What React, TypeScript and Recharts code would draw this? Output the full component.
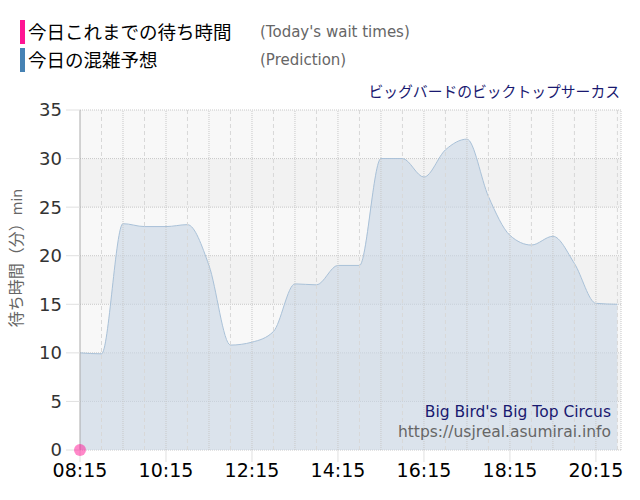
import { ComposedChart, Area, Scatter, XAxis, YAxis, CartesianGrid, ReferenceLine } from 'recharts';

// prediction series, every 30 minutes
const PRED_TIMES = [
  '08:15', '08:45', '09:15', '09:45', '10:15', '10:45', '11:15', '11:45', '12:15', '12:45',
  '13:15', '13:45', '14:15', '14:45', '15:15', '15:45', '16:15', '16:45', '17:15', '17:45',
  '18:15', '18:45', '19:15', '19:45', '20:15', '20:45',
];
const PRED_VALUES = [
  10, 9.9, 23.3, 23, 23, 23.2, 19, 10.8, 11.1, 12.2,
  17.1, 17, 19, 19, 30, 30, 28.1, 30.9, 32, 26.1,
  22.1, 21.1, 22, 19.2, 15.1, 15,
];

// today's actual wait times
const ACTUAL_TIMES = ['08:15'];
const ACTUAL_VALUES = [0];

const X_TICKS = ['08:15', '10:15', '12:15', '14:15', '16:15', '18:15', '20:15'];
const Y_TICKS = [0, 5, 10, 15, 20, 25, 30, 35];
const GRID_DOTTED = ['09:15', '10:15', '11:15', '12:15', '13:15', '14:15', '15:15', '16:15', '17:15', '18:15', '19:15', '20:15'];
const GRID_DASHED = ['08:45', '09:45', '10:45', '11:45', '12:45', '13:45', '14:45', '15:45', '16:45', '17:45', '18:45', '19:45', '20:45'];

const toMin = (s: string) => {
  const [h, m] = s.split(':').map(Number);
  return h * 60 + m;
};
const fmt = (v: number) => {
  const h = Math.floor(v / 60);
  const m = v % 60;
  return `${String(h).padStart(2, '0')}:${String(m).padStart(2, '0')}`;
};

const predData = PRED_TIMES.map((t, i) => ({ t: toMin(t), v: PRED_VALUES[i] }));
const actualData = ACTUAL_TIMES.map((t, i) => ({ t: toMin(t), v: ACTUAL_VALUES[i] }));

const JP = '"Noto Sans CJK JP", "Noto Sans", sans-serif';
const SANS = '"DejaVu Sans", sans-serif';

export default function App() {
  return (
    <div style={{ position: 'absolute', left: 0, top: 0, width: 640, height: 500, background: '#fff' }}>
      <ComposedChart width={640} height={500} margin={{ top: 110, right: 19, left: 0, bottom: 0 }}>
        <CartesianGrid
          vertical={false}
          stroke="#c8c8c8"
          strokeDasharray="1 1"
          horizontalFill={['#f8f8f8', '#f2f2f2']}
          fillOpacity={1}
        />
        <XAxis
          type="number"
          dataKey="t"
          domain={[toMin('08:15'), toMin('20:50')]}
          ticks={X_TICKS.map(toMin)}
          tickFormatter={fmt}
          height={50}
          axisLine={false}
          tickLine={{ stroke: '#e0e0e0' }}
          tickSize={12}
          tickMargin={2}
          tick={{ fill: '#000', fontSize: 19, fontFamily: SANS }}
        />
        <YAxis
          type="number"
          domain={[0, 35]}
          ticks={Y_TICKS}
          width={80}
          axisLine={{ stroke: '#aaa' }}
          tickLine={{ stroke: '#e0e0e0' }}
          tickSize={14}
          tickMargin={4}
          tick={{ fill: '#333', fontSize: 18, fontFamily: SANS }}
        />
        {GRID_DOTTED.map((t) => (
          <ReferenceLine key={t} x={toMin(t)} stroke="#c8c8c8" strokeDasharray="1 1" />
        ))}
        {GRID_DASHED.map((t) => (
          <ReferenceLine key={t} x={toMin(t)} stroke="#d8d8d8" strokeDasharray="4 3" />
        ))}
        <ReferenceLine x={toMin('20:50')} stroke="#c8c8c8" strokeDasharray="1 1" />
        <Area
          data={predData}
          dataKey="v"
          type="monotone"
          stroke="#a9c1d8"
          strokeWidth={1}
          fill="#c8d6e4"
          fillOpacity={0.6}
          dot={false}
          activeDot={false}
          isAnimationActive={false}
        />
        <Scatter
          data={actualData}
          dataKey="v"
          isAnimationActive={false}
          shape={(p: any) => <circle cx={p.cx} cy={p.cy} r={6} fill="#ff1493" fillOpacity={0.5} />}
        />
      </ComposedChart>

      <svg width={640} height={500} style={{ position: 'absolute', left: 0, top: 0, pointerEvents: 'none' }}>
        <rect x={20} y={20} width={5} height={24} fill="#ff1493" />
        <rect x={20} y={48} width={5} height={24} fill="#4682b4" />
        <text x={28} y={39} fontSize={18.5} fontFamily={JP} fill="#000">今日これまでの待ち時間</text>
        <text x={28} y={67} fontSize={18.5} fontFamily={JP} fill="#000">今日の混雑予想</text>
        <text x={260} y={37} fontSize={15} fontFamily={SANS} fill="#666">(Today's wait times)</text>
        <text x={260} y={65} fontSize={15} fontFamily={SANS} fill="#666">(Prediction)</text>
        <text x={620} y={97} textAnchor="end" fontSize={14.8} fontFamily={JP} fill="#191970">ビッグバードのビックトップサーカス</text>
        <text x={611} y={417} textAnchor="end" fontSize={15.5} fontFamily={SANS} fill="#191970">Big Bird's Big Top Circus</text>
        <text x={611} y={437} textAnchor="end" fontSize={15.5} fontFamily={SANS} fill="#666">https://usjreal.asumirai.info</text>
        <text transform="translate(22,258) rotate(-90)" textAnchor="middle" fontSize={16} fontFamily={JP} fill="#666">
          待ち時間（分）<tspan fontSize={14} fontFamily={SANS}>min</tspan>
        </text>
      </svg>
    </div>
  );
}
